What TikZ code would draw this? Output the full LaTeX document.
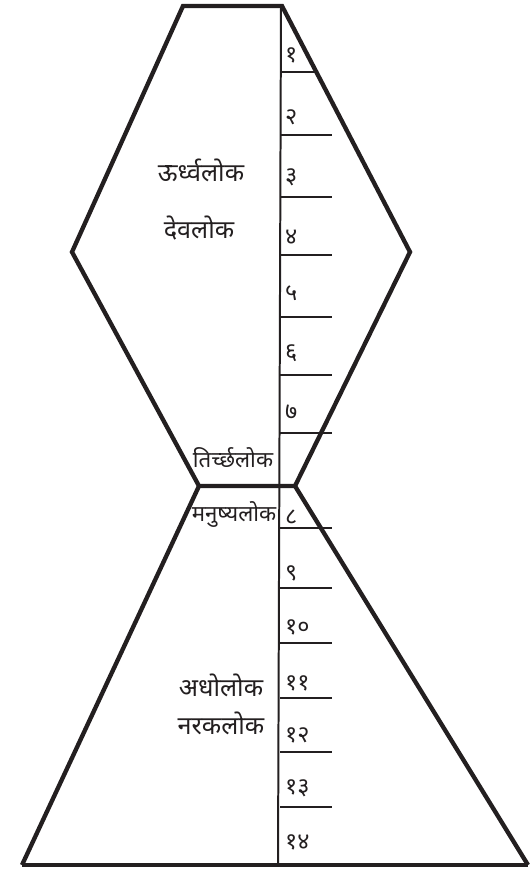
\documentclass[tikz,border=0pt]{standalone}
\usepackage{fontspec}
\newfontfamily\devfont[Script=Devanagari]{Noto Sans}
\definecolor{ink}{HTML}{231F20}
\usetikzlibrary{positioning}

\begin{document}
\begin{tikzpicture}[x=0.03cm,y=-0.03cm,
  outline/.style={ink,line width=3.7pt,line join=miter},
  axis/.style={ink,line width=1.7pt},
  lok/.style={ink,font=\devfont\fontsize{21.5}{25}\selectfont,inner sep=0pt},
  midlok/.style={ink,font=\devfont\fontsize{19}{23}\selectfont,inner sep=0pt},
  num/.style={ink,font=\devfont\fontsize{20}{24}\selectfont,inner sep=0pt,anchor=west}]
  \useasboundingbox (0,0) rectangle (529,869);
  % upper world, six sided
  \coordinate (topl) at (183,6);
  \coordinate (topr) at (282,6);
  \coordinate (eastv) at (410,252);
  \coordinate (westv) at (72,252);
  \coordinate (waistl) at (199,486);
  \coordinate (waistr) at (295,486);
  \draw[outline] (waistl) -- (westv) -- (topl) -- (topr) -- (eastv) -- (waistr) -- cycle;
  % lower world, trapezium
  \coordinate (basel) at (22,865);
  \coordinate (baser) at (528,865);
  \draw[outline] (waistl) -- (basel);
  \draw[outline] (waistr) -- (baser);
  \draw[ink,line width=2.8pt] (basel) -- (baser);
  % axis
  \coordinate (axtop) at (281,6);
  \coordinate (axbot) at (278,865);
  \draw[axis] (axtop) -- (axbot);
  % rungs
  \draw[axis] (281,72) -- (316,72);
  \foreach \y in {135,197,255,317,375,433,528,588,643,698,752,807}
    \draw[axis] (280,\y) -- (332,\y);
  % numbers
  \foreach \n/\y in {१/55,२/117,३/177,४/237,५/293,६/353,७/412,
                     ८/517,९/573,१०/627,११/683,१२/735,१३/788,१४/842}
    \node[num] (n\y) at (285,\y) {\n};
  % names of the worlds
  \node[lok] (urdhva) at (201,170) {ऊर्ध्वलोक};
  \node[lok] (deva) at (199,228) {देवलोक};
  \node[midlok] (tirchha) at (233,458) {तिर्च्छलोक};
  \node[midlok] (manushya) at (234,515) {मनुष्यलोक};
  \node[lok] (adho) at (221,685) {अधोलोक};
  \node[lok] (naraka) at (221,723) {नरकलोक};
\end{tikzpicture}
\end{document}
